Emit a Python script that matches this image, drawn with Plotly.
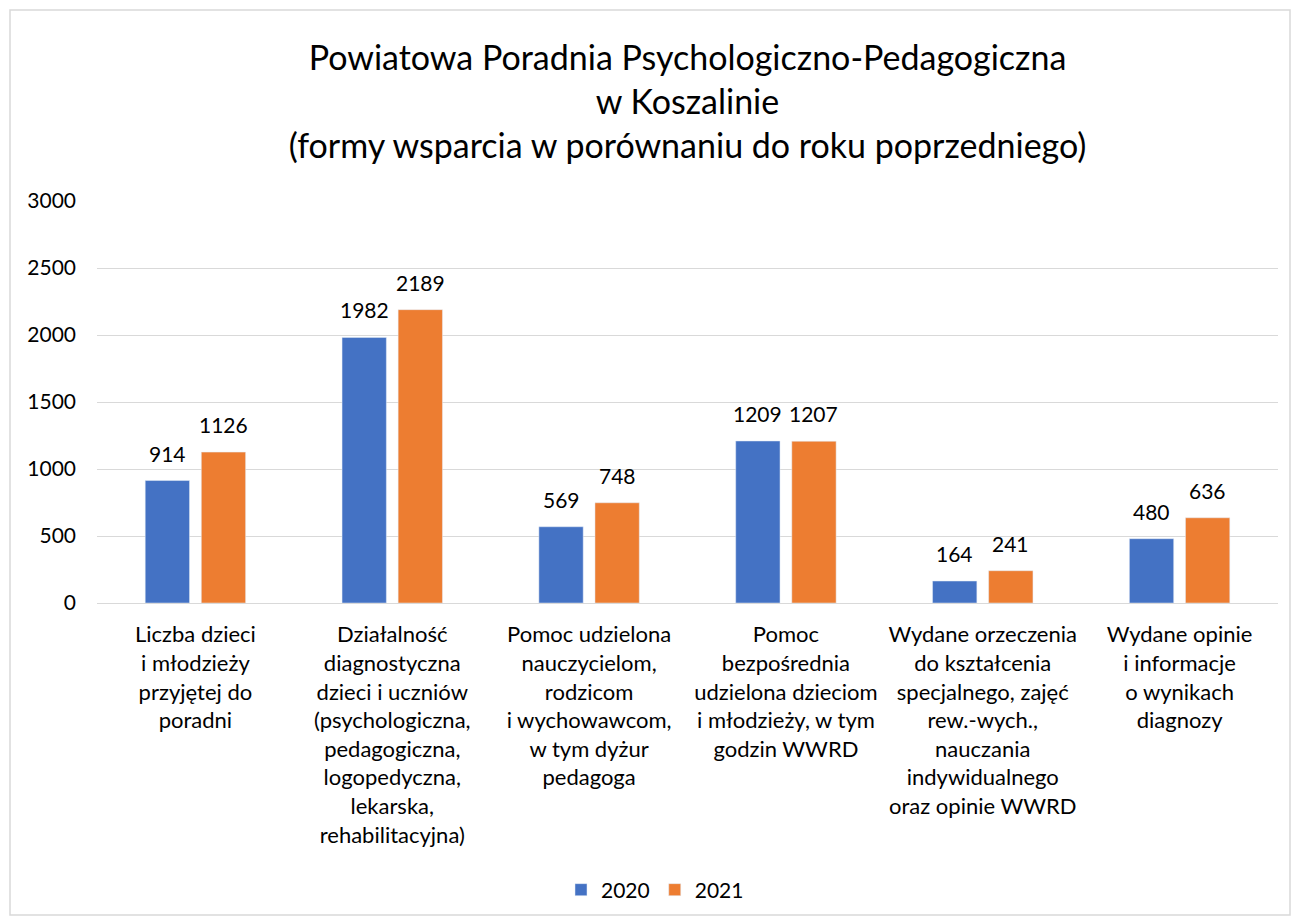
import plotly.graph_objects as go

categories = [
    "Liczba dzieci<br>i młodzieży<br>przyjętej do<br>poradni",
    "Działalność<br>diagnostyczna<br>dzieci i uczniów<br>(psychologiczna,<br>pedagogiczna,<br>logopedyczna,<br>lekarska,<br>rehabilitacyjna)",
    "Pomoc udzielona<br>nauczycielom,<br>rodzicom<br>i wychowawcom,<br>w tym dyżur<br>pedagoga",
    "Pomoc<br>bezpośrednia<br>udzielona dzieciom<br>i młodzieży, w tym<br>godzin WWRD",
    "Wydane orzeczenia<br>do kształcenia<br>specjalnego, zajęć<br>rew.-wych.,<br>nauczania<br>indywidualnego<br>oraz opinie WWRD",
    "Wydane opinie<br>i informacje<br>o wynikach<br>diagnozy",
]
values_2020 = [914, 1982, 569, 1209, 164, 480]
values_2021 = [1126, 2189, 748, 1207, 241, 636]
y_ticks = [0, 500, 1000, 1500, 2000, 2500, 3000]

FONT = "Lato, Open Sans, sans-serif"
W, H = 1293, 924
ml, mr, mt, mb = 97, 15, 201, 321
pw, ph = W - ml - mr, H - mt - mb

fig = go.Figure()
fig.add_trace(go.Bar(x=categories, y=values_2020, name="2020", marker_color="#4472C4"))
fig.add_trace(go.Bar(x=categories, y=values_2021, name="2021", marker_color="#ED7D31"))

# value labels above bars
annotations = []
for vals, shift in ((values_2020, -28), (values_2021, 28)):
    for c, v in zip(categories, vals):
        annotations.append(dict(x=c, y=v, xref="x", yref="y", text=str(v), showarrow=False,
                                xshift=shift, yshift=13, yanchor="bottom",
                                font=dict(size=21, color="#000000", family=FONT)))

def px_x(p):
    return (p - ml) / pw

def px_y(p):
    return (H - mb - p) / ph

fig.update_layout(
    width=W, height=H,
    margin=dict(l=ml, r=mr, t=mt, b=mb),
    paper_bgcolor="white", plot_bgcolor="white",
    font=dict(family=FONT, size=21, color="#000000"),
    barmode="group", bargap=0.43, bargroupgap=0.21,
    title=dict(
        text="Powiatowa Poradnia Psychologiczno-Pedagogiczna<br>w Koszalinie<br>(formy wsparcia w porównaniu do roku poprzedniego)",
        x=0.5, xanchor="center", xref="paper",
        y=1 - 70 / H, yanchor="middle", yref="container",
        font=dict(size=34, family=FONT, color="#000000"),
    ),
    xaxis=dict(showgrid=False, showline=True, linecolor="#d9d9d9", linewidth=1,
               ticks="", tickfont=dict(size=22), tickangle=0, ticklabelstandoff=12),
    yaxis=dict(range=[0, 3000], tickvals=y_ticks, showgrid=True, gridcolor="#d9d9d9",
               gridwidth=1, zeroline=False, showline=False, ticks="", ticklabelstandoff=20,
               tickfont=dict(size=21)),
    legend=dict(orientation="h", x=px_x(655), xanchor="center", y=px_y(890), yanchor="middle",
                font=dict(size=21), traceorder="normal"),
    showlegend=True,
    annotations=annotations,
    shapes=[dict(type="rect", xref="paper", yref="paper",
                 x0=px_x(10), x1=px_x(1290), y0=px_y(915), y1=px_y(10),
                 line=dict(color="#d9d9d9", width=1.5), fillcolor="rgba(0,0,0,0)", layer="below")],
)

fig.write_html("out.html", config={"displayModeBar": False},
               post_script="document.body.style.margin='0';")
